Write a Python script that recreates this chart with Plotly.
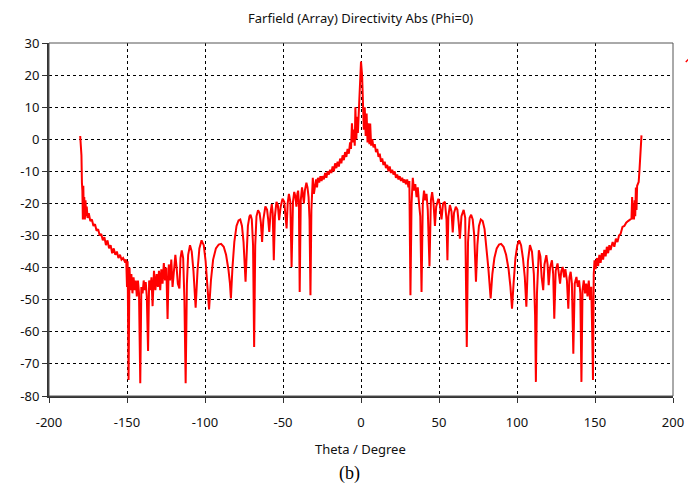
import plotly.graph_objects as go

# ---- data ----
theta_left = [
    -180.0, -179.6, -179.2, -178.9, -178.6, -178.3, -178.0, -177.7, -177.4, -177.0,
    -176.6, -176.2, -175.8, -175.3, -174.5, -173.5, -172.5, -171.5, -170.5, -169.5,
    -168.5, -167.5, -166.5, -165.5, -164.5, -163.5, -162.5, -161.5, -160.5, -159.5,
    -158.5, -157.5, -156.5, -155.5, -154.5, -153.5, -152.5, -151.5, -150.5, -150.0,
    -149.6, -149.0, -148.4, -147.8, -147.2, -146.5, -145.8, -145.0, -144.4, -143.7,
    -143.0, -142.3, -141.5, -140.8, -140.0, -139.3, -138.6, -138.0, -137.3, -136.5,
    -135.8, -135.0, -134.3, -133.6, -132.7, -131.8, -131.0, -130.2, -129.5, -128.7,
    -128.0, -127.2, -126.4, -125.6, -124.8, -124.0, -123.2, -122.4, -121.6, -120.8,
    -120.0, -119.0, -118.2, -117.4, -116.4, -115.7, -114.9, -114.0, -113.2, -112.4,
    -111.6, -110.8, -109.6, -108.5, -107.4, -106.0, -104.8, -103.6, -102.2, -100.8,
    -99.6, -98.5, -97.4, -96.2, -94.8, -93.0, -91.2, -89.7, -88.0, -86.5,
    -85.0, -84.0, -83.4, -82.4, -81.2, -79.8, -78.5, -77.4, -76.3, -75.3,
    -74.5, -74.0, -73.3, -72.5, -71.5, -70.8, -70.0, -69.2, -68.5, -67.8,
    -67.0, -66.0, -65.0, -64.2, -63.4, -62.6, -61.3, -60.2, -59.5, -58.8,
    -58.0, -57.2, -56.6, -55.9, -55.2, -54.2, -53.3, -52.5, -51.5, -50.3,
    -49.2, -48.4, -47.7, -47.0, -46.2, -45.3, -44.5, -43.6, -42.8, -42.0,
    -41.4, -40.8, -40.3, -39.8, -39.3, -38.6, -37.8, -37.2, -36.6, -36.0,
    -35.0, -34.3, -33.6, -33.0, -32.4, -31.8, -30.9, -30.2, -29.5, -28.8,
    -28.2, -27.6, -26.8, -26.0, -25.3, -24.6, -23.8, -23.0, -22.2, -21.4,
    -20.6, -19.8, -19.0, -18.2, -17.4, -16.6, -15.8, -15.0, -14.2, -13.4,
    -12.6, -11.8, -11.0, -10.2, -9.4, -8.6, -7.8, -7.0, -6.4, -5.8,
    -5.2, -4.6, -4.0, -3.6, -3.0, -2.5, -2.0, -1.2, -0.7, 0.0,
]
dir_left = [
    1.0, -1.0, -5.0, -13.5, -16.0, -25.0, -14.5, -23.0, -18.0, -25.0,
    -19.0, -24.0, -21.0, -24.5, -23.0, -25.5, -25.0, -27.0, -26.5, -28.5,
    -28.0, -30.0, -29.5, -31.5, -30.5, -33.0, -31.5, -34.0, -33.0, -35.5,
    -34.0, -36.0, -35.0, -37.0, -36.0, -37.5, -37.0, -38.0, -37.5, -46.0,
    -38.0, -75.0, -40.0, -47.0, -42.0, -48.0, -43.0, -47.0, -44.0, -49.0,
    -44.0, -48.0, -76.0, -46.0, -48.0, -44.0, -47.0, -44.5, -49.0, -66.0,
    -44.0, -47.0, -43.0, -52.0, -41.0, -47.0, -42.0, -46.0, -41.0, -47.0,
    -40.5, -45.0, -38.6, -44.0, -40.0, -56.0, -39.0, -44.0, -37.5, -46.0,
    -40.0, -36.0, -40.0, -45.0, -46.5, -37.0, -34.6, -37.0, -50.0, -76.0,
    -45.0, -36.0, -33.0, -35.0, -41.0, -52.5, -41.0, -34.0, -31.5, -33.0,
    -38.0, -45.0, -53.0, -44.0, -37.5, -34.0, -32.8, -32.6, -33.5, -36.0,
    -40.5, -45.0, -49.6, -40.0, -32.0, -27.0, -25.3, -25.0, -27.0, -32.0,
    -38.0, -44.4, -36.0, -27.0, -24.0, -23.5, -25.0, -33.0, -64.7, -33.0,
    -24.0, -22.1, -23.0, -26.0, -32.0, -25.0, -20.9, -22.0, -25.0, -28.9,
    -23.0, -20.2, -23.0, -37.7, -24.0, -19.5, -20.5, -25.2, -21.0, -18.5,
    -19.5, -23.0, -27.8, -20.0, -17.0, -19.5, -39.8, -19.5, -16.4, -18.0,
    -21.0, -17.0, -16.0, -20.0, -47.6, -19.0, -15.0, -17.5, -20.0, -16.0,
    -13.5, -15.0, -18.0, -25.0, -48.6, -22.0, -12.0, -17.0, -14.0, -12.5,
    -15.0, -12.0, -13.5, -11.5, -13.0, -11.5, -12.5, -10.5, -12.0, -10.0,
    -11.0, -9.5, -10.5, -8.5, -10.0, -7.5, -9.0, -7.0, -8.5, -6.0,
    -7.5, -5.0, -6.5, -4.0, -5.5, -3.0, -4.5, -1.0, -3.0, 5.0,
    -1.0, 3.0, -2.0, 10.0, 0.0, 7.0, 2.0, 12.0, 20.5, 24.2,
]
theta_right = [
    0.7, 1.2, 1.8, 2.4, 3.0, 3.6, 4.2, 4.8, 5.4, 5.9,
    6.5, 7.2, 8.0, 8.8, 9.6, 10.4, 11.2, 12.0, 12.8, 13.6,
    14.4, 15.2, 16.0, 16.8, 17.6, 18.4, 19.2, 20.0, 20.8, 21.6,
    22.4, 23.2, 24.0, 24.8, 25.6, 26.4, 27.2, 28.0, 28.8, 29.6,
    30.4, 31.0, 31.7, 32.4, 33.2, 34.0, 34.8, 35.6, 36.4, 37.2,
    38.0, 38.8, 39.6, 40.4, 41.2, 42.0, 42.8, 43.9, 44.8, 45.6,
    46.5, 47.4, 48.2, 49.6, 50.6, 51.6, 52.6, 53.8, 54.8, 55.4,
    56.0, 57.0, 58.0, 58.8, 59.6, 60.8, 61.8, 62.6, 63.4, 64.4,
    65.8, 66.8, 67.8, 68.6, 69.6, 70.6, 71.6, 72.6, 73.7, 74.6,
    75.6, 76.8, 78.0, 79.2, 80.4, 81.6, 82.4, 83.1, 84.2, 85.5,
    87.0, 88.5, 89.8, 91.4, 93.0, 94.6, 95.8, 96.8, 97.8, 99.0,
    100.2, 101.4, 102.6, 103.8, 105.0, 106.0, 107.0, 108.3, 109.6, 110.8,
    111.6, 112.1, 112.8, 113.4, 114.0, 115.0, 115.8, 116.8, 117.6, 118.8,
    119.6, 120.3, 121.2, 122.4, 123.2, 123.9, 124.8, 126.0, 126.8, 127.6,
    128.4, 129.3, 130.2, 131.0, 132.0, 132.9, 133.6, 134.4, 135.2, 136.1,
    137.0, 138.1, 139.0, 139.8, 140.6, 141.3, 142.0, 142.8, 143.6, 144.4,
    145.2, 146.0, 146.8, 147.6, 148.2, 148.7, 149.2, 149.7, 150.4, 151.2,
    152.0, 152.8, 153.6, 154.4, 155.2, 156.0, 156.8, 157.6, 158.4, 159.2,
    160.0, 161.3, 162.4, 163.4, 164.4, 165.4, 166.4, 167.6, 168.8, 170.0,
    171.2, 172.4, 173.4, 173.8, 174.2, 174.6, 175.0, 175.4, 175.8, 176.2,
    176.6, 177.0, 177.6, 178.0, 178.5, 179.0, 179.4, 179.8,
]
dir_right = [
    20.0, 11.0, 3.0, 10.0, 1.0, 8.0, -1.0, 5.0, -1.5, 4.9,
    -2.0, 0.0, -2.5, -1.5, -4.0, -3.0, -5.5, -4.5, -7.0, -6.0,
    -8.0, -7.0, -9.0, -8.0, -10.0, -8.5, -10.5, -9.5, -11.0, -10.0,
    -12.0, -11.0, -12.5, -11.5, -13.0, -12.0, -13.5, -12.5, -14.0, -12.5,
    -15.0, -13.0, -48.6, -20.0, -12.0, -16.0, -14.0, -18.0, -15.0, -20.0,
    -24.0, -47.6, -20.0, -16.0, -19.0, -17.0, -22.0, -39.6, -19.0, -16.5,
    -20.0, -27.0, -21.0, -18.5, -20.5, -25.0, -20.0, -19.5, -25.0, -37.7,
    -24.0, -20.5, -22.5, -29.0, -23.0, -21.0, -22.0, -26.0, -31.0, -24.0,
    -22.0, -24.5, -64.7, -32.0, -24.5, -23.5, -25.0, -30.0, -44.4, -33.0,
    -27.0, -25.0, -25.5, -28.0, -33.0, -40.0, -45.0, -49.6, -42.0, -37.0,
    -34.0, -32.8, -32.6, -33.5, -36.0, -40.5, -46.0, -52.8, -45.0, -37.0,
    -33.0, -31.5, -33.0, -37.0, -43.0, -52.2, -38.0, -33.0, -35.0, -42.0,
    -55.0, -75.6, -48.0, -37.0, -34.6, -36.5, -43.0, -47.0, -39.0, -36.1,
    -39.0, -45.5, -40.0, -37.7, -42.0, -55.9, -41.0, -38.7, -42.0, -45.0,
    -41.0, -39.8, -43.0, -40.5, -44.0, -52.8, -43.0, -41.3, -45.0, -66.8,
    -45.0, -42.9, -46.0, -44.0, -48.0, -75.6, -47.0, -44.0, -48.0, -45.0,
    -49.0, -44.0, -50.0, -46.0, -60.0, -75.0, -42.0, -37.7, -40.5, -37.0,
    -39.5, -36.0, -38.5, -35.5, -37.5, -34.5, -36.5, -33.5, -35.5, -33.0,
    -34.5, -32.0, -33.5, -31.0, -32.0, -30.0, -29.5, -27.3, -27.0, -26.0,
    -25.5, -25.0, -24.7, -18.0, -25.0, -20.0, -25.0, -19.0, -24.0, -15.0,
    -22.0, -14.5, -13.5, -13.3, -9.7, -5.0, -1.0, 1.2,
]
theta = theta_left + theta_right
directivity = dir_left + dir_right

x_ticks = [-200, -150, -100, -50, 0, 50, 100, 150, 200]
y_ticks = [30, 20, 10, 0, -10, -20, -30, -40, -50, -60, -70, -80]

# the page body has an 8px margin, so the figure is drawn 8px smaller and offset
OFF = 8
W, H = 696 - OFF, 488 - OFF
L, R, T, B = 43 - OFF, 18, 43 - OFF, 92
pw = W - L - R
ph = H - T - B


def px_x(x):
    return (x - OFF - L) / pw


def px_y(y):
    return (H - B - (y - OFF)) / ph


fig = go.Figure()
fig.add_trace(go.Scatter(
    x=theta, y=directivity, mode="lines",
    line=dict(color="#ff0000", width=2),
    showlegend=False, hoverinfo="x+y",
))

font_ui = "Noto Sans, DejaVu Sans, sans-serif"
axis_common = dict(
    showgrid=True, gridcolor="#000000", gridwidth=1, griddash="3px,3px",
    zeroline=False, showline=True, linecolor="#333333", linewidth=2,
    mirror=False, ticks="outside", ticklen=5, tickcolor="#333333", tickwidth=1,
    tickfont=dict(family=font_ui, size=13, color="#111111"),
)

fig.update_layout(
    width=W, height=H,
    margin=dict(l=L, r=R, t=T, b=B),
    paper_bgcolor="white", plot_bgcolor="white",
    xaxis=dict(range=[-200, 200], tickvals=x_ticks, ticktext=[str(v) for v in x_ticks],
               ticklabelstandoff=8, **axis_common),
    yaxis=dict(range=[-80, 30], tickvals=y_ticks, ticktext=[str(v) for v in y_ticks],
               **axis_common),
    shapes=[
        dict(type="rect", xref="paper", yref="paper", x0=0, y0=0, x1=1, y1=1,
             line=dict(color="#555555", width=1), fillcolor="rgba(0,0,0,0)", layer="above"),
        dict(type="line", xref="paper", yref="paper",
             x0=px_x(691), x1=px_x(695), y0=px_y(62), y1=px_y(58),
             line=dict(color="#ff0000", width=1.5)),
    ],
    annotations=[
        dict(text="Farfield (Array) Directivity Abs (Phi=0)", xref="paper", yref="paper",
             x=px_x(360), y=px_y(18), showarrow=False,
             xanchor="center", yanchor="middle",
             font=dict(family=font_ui, size=13, color="#111111")),
        dict(text="Theta / Degree", xref="paper", yref="paper",
             x=px_x(360), y=px_y(449), showarrow=False,
             xanchor="center", yanchor="middle",
             font=dict(family=font_ui, size=13, color="#111111")),
        dict(text="(b)", xref="paper", yref="paper",
             x=px_x(349), y=px_y(474), showarrow=False,
             xanchor="center", yanchor="middle",
             font=dict(family="Liberation Serif, Times New Roman, serif", size=18, color="#000000")),
    ],
)

fig.write_html("out.html")
